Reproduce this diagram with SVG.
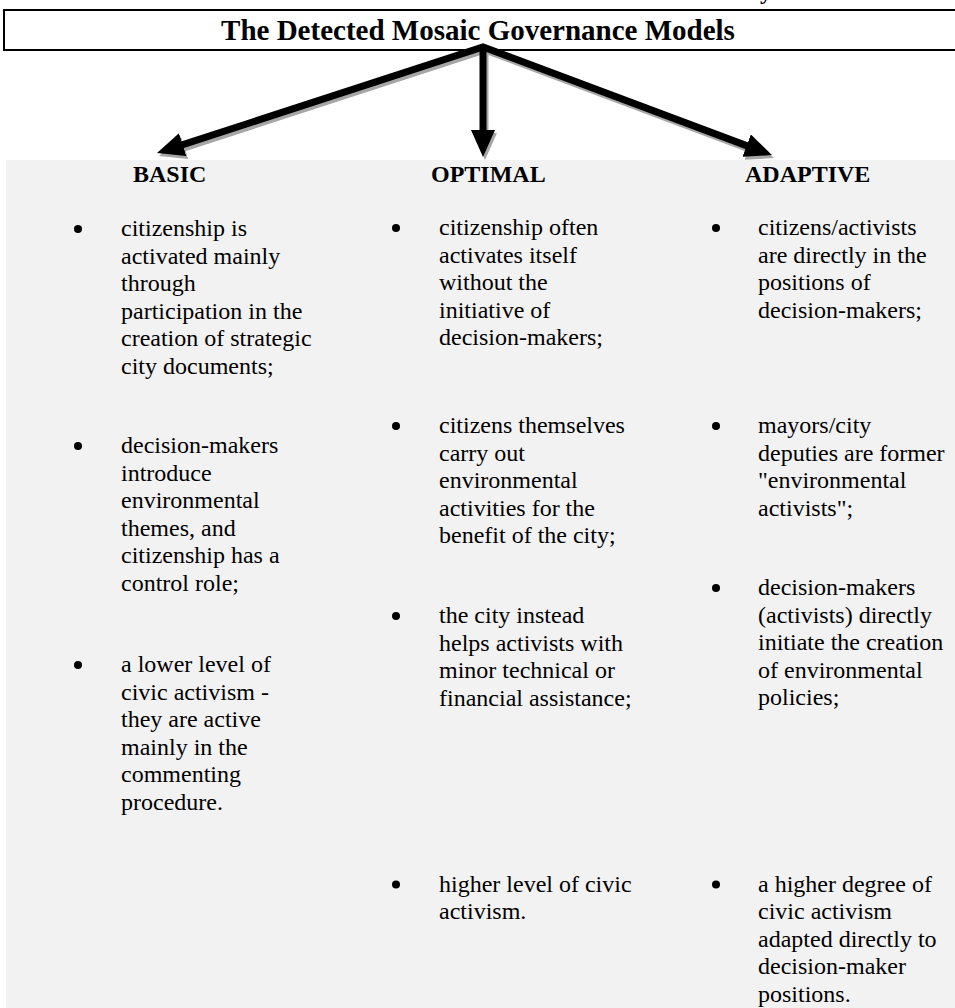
<svg xmlns="http://www.w3.org/2000/svg" width="955" height="1008" viewBox="0 0 955 1008" font-family="'Liberation Serif', 'Times New Roman', Times, serif">
<style>
  .title { font-family: 'Liberation Serif', 'Times New Roman', Times, serif; font-size: 29px; font-weight: bold; }
  .head { font-family: 'Liberation Serif', 'Times New Roman', Times, serif; font-size: 24px; font-weight: bold; }
  .body { font-family: 'Liberation Serif', 'Times New Roman', Times, serif; font-size: 24px; }
  .bul { fill: #000; }
  .shaft { fill: none; stroke: #000; stroke-width: 7; stroke-linejoin: miter; }
  .shadow { fill: none; stroke: #a6a6a6; stroke-width: 7; stroke-linejoin: miter; }
</style>
<defs>
  <marker id="ah" viewBox="0 0 27 24" refX="7" refY="12" markerWidth="27" markerHeight="24" markerUnits="userSpaceOnUse" orient="auto-start-reverse">
    <path d="M0,0 L27,12 L0,24 z" fill="#000"/>
  </marker>
  <marker id="ahs" viewBox="0 0 27 24" refX="7" refY="12" markerWidth="27" markerHeight="24" markerUnits="userSpaceOnUse" orient="auto-start-reverse">
    <path d="M0,0 L27,12 L0,24 z" fill="#a6a6a6"/>
  </marker>
</defs>
<rect x="0" y="0" width="955" height="1008" fill="#fff"/>
<text class="head" x="760" y="-1">y</text>
<rect x="6" y="160" width="949" height="848" fill="#f2f2f2"/>

<g id="title">
  <rect x="4" y="10" width="960" height="40" fill="#fff" stroke="#000" stroke-width="2"/>
  <text class="title" x="478" y="40" text-anchor="middle">The Detected Mosaic Governance Models</text>
</g>

<g id="connectors">
  <g transform="translate(2,3)">
    <path class="shadow" d="M176,146.9 L483,47 L753.2,148.1" marker-start="url(#ahs)" marker-end="url(#ahs)"/>
    <path class="shadow" d="M483,47 L483,137" marker-end="url(#ahs)"/>
  </g>
  <path class="shaft" d="M176,146.9 L483,47 L753.2,148.1" marker-start="url(#ah)" marker-end="url(#ah)"/>
  <path class="shaft" d="M483,47 L483,137" marker-end="url(#ah)"/>
</g>

<g id="basic">
  <text class="head" x="133" y="182">BASIC</text>
  <circle class="bul" cx="78" cy="229" r="4"/>
  <text class="body"><tspan x="121" y="236">citizenship is</tspan><tspan x="121" y="263.5">activated mainly</tspan><tspan x="121" y="291">through</tspan><tspan x="121" y="318.5">participation in the</tspan><tspan x="121" y="346">creation of strategic</tspan><tspan x="121" y="373.5">city documents;</tspan></text>
  <circle class="bul" cx="78" cy="446" r="4"/>
  <text class="body"><tspan x="121" y="453">decision-makers</tspan><tspan x="121" y="480.5">introduce</tspan><tspan x="121" y="508">environmental</tspan><tspan x="121" y="535.5">themes, and</tspan><tspan x="121" y="563">citizenship has a</tspan><tspan x="121" y="590.5">control role;</tspan></text>
  <circle class="bul" cx="78" cy="665" r="4"/>
  <text class="body"><tspan x="121" y="672">a lower level of</tspan><tspan x="121" y="699.5">civic activism -</tspan><tspan x="121" y="727">they are active</tspan><tspan x="121" y="754.5">mainly in the</tspan><tspan x="121" y="782">commenting</tspan><tspan x="121" y="809.5">procedure.</tspan></text>
</g>

<g id="optimal">
  <text class="head" x="431" y="182">OPTIMAL</text>
  <circle class="bul" cx="396" cy="228" r="4"/>
  <text class="body"><tspan x="439" y="235">citizenship often</tspan><tspan x="439" y="262.5">activates itself</tspan><tspan x="439" y="290">without the</tspan><tspan x="439" y="317.5">initiative of</tspan><tspan x="439" y="345">decision-makers;</tspan></text>
  <circle class="bul" cx="396" cy="426" r="4"/>
  <text class="body"><tspan x="439" y="433">citizens themselves</tspan><tspan x="439" y="460.5">carry out</tspan><tspan x="439" y="488">environmental</tspan><tspan x="439" y="515.5">activities for the</tspan><tspan x="439" y="543">benefit of the city;</tspan></text>
  <circle class="bul" cx="396" cy="616" r="4"/>
  <text class="body"><tspan x="439" y="623">the city instead</tspan><tspan x="439" y="650.5">helps activists with</tspan><tspan x="439" y="678">minor technical or</tspan><tspan x="439" y="705.5">financial assistance;</tspan></text>
  <circle class="bul" cx="396" cy="884.5" r="4"/>
  <text class="body"><tspan x="439" y="891.5">higher level of civic</tspan><tspan x="439" y="919">activism.</tspan></text>
</g>

<g id="adaptive">
  <text class="head" x="745" y="182">ADAPTIVE</text>
  <circle class="bul" cx="716" cy="228" r="4"/>
  <text class="body"><tspan x="758" y="235">citizens/activists</tspan><tspan x="758" y="262.5">are directly in the</tspan><tspan x="758" y="290">positions of</tspan><tspan x="758" y="317.5">decision-makers;</tspan></text>
  <circle class="bul" cx="716" cy="426" r="4"/>
  <text class="body"><tspan x="758" y="433">mayors/city</tspan><tspan x="758" y="460.5">deputies are former</tspan><tspan x="758" y="488">"environmental</tspan><tspan x="758" y="515.5">activists";</tspan></text>
  <circle class="bul" cx="716" cy="588" r="4"/>
  <text class="body"><tspan x="758" y="595">decision-makers</tspan><tspan x="758" y="622.5">(activists) directly</tspan><tspan x="758" y="650">initiate the creation</tspan><tspan x="758" y="677.5">of environmental</tspan><tspan x="758" y="705">policies;</tspan></text>
  <circle class="bul" cx="716" cy="884.5" r="4"/>
  <text class="body"><tspan x="758" y="891.5">a higher degree of</tspan><tspan x="758" y="919">civic activism</tspan><tspan x="758" y="946.5">adapted directly to</tspan><tspan x="758" y="974">decision-maker</tspan><tspan x="758" y="1001.5">positions.</tspan></text>
</g>
</svg>
